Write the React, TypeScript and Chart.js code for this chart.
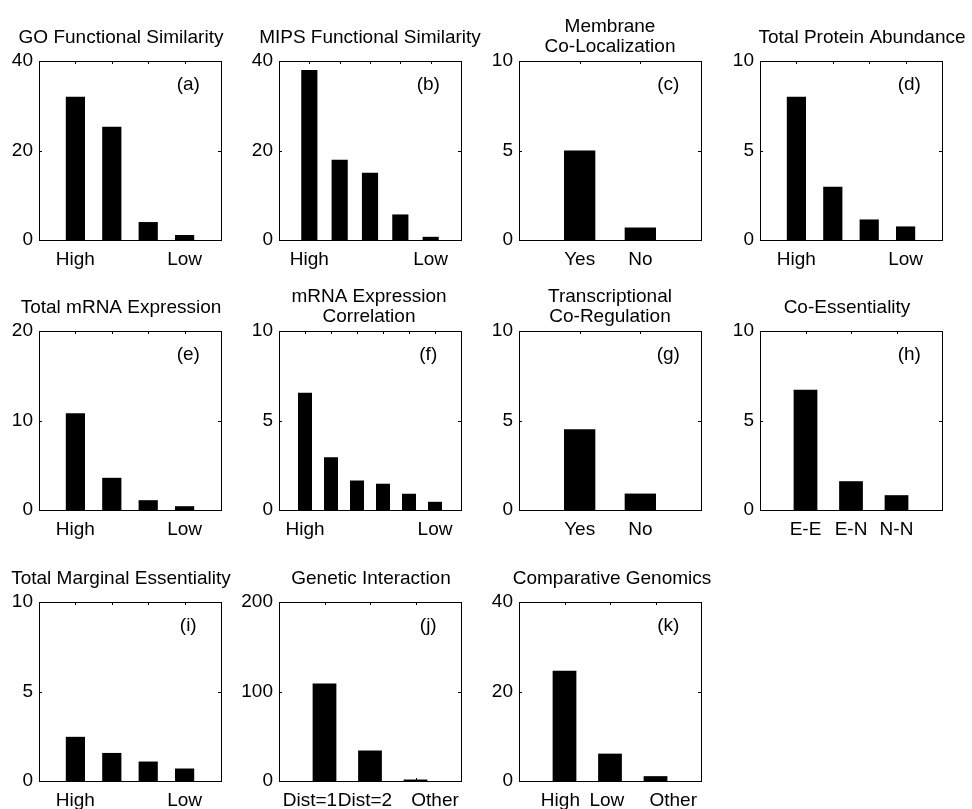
import React, { useEffect, useRef } from 'react';
import { Chart, registerables } from 'chart.js';

Chart.register(...registerables);

const FONT_FAMILY = '"Liberation Sans", Arial, Helvetica, sans-serif';
const FONT_SIZE = 19;

// ---- Data ----
// (a) GO Functional Similarity
const goCategories = ['High', '', '', 'Low'];
const goValues = [31.9, 25.2, 3.9, 1.0];
const goYTicks = [0, 20, 40];
// (b) MIPS Functional Similarity
const mipsCategories = ['High', '', '', '', 'Low'];
const mipsValues = [37.9, 17.8, 14.9, 5.6, 0.6];
const mipsYTicks = [0, 20, 40];
// (c) Membrane Co-Localization
const membraneCategories = ['Yes', 'No'];
const membraneValues = [4.97, 0.67];
const membraneYTicks = [0, 5, 10];
// (d) Total Protein Abundance
const proteinCategories = ['High', '', '', 'Low'];
const proteinValues = [7.97, 2.94, 1.12, 0.73];
const proteinYTicks = [0, 5, 10];
// (e) Total mRNA Expression
const mrnaCategories = ['High', '', '', 'Low'];
const mrnaValues = [10.76, 3.54, 1.04, 0.37];
const mrnaYTicks = [0, 10, 20];
// (f) mRNA Expression Correlation
const corrCategories = ['High', '', '', '', '', 'Low'];
const corrValues = [6.52, 2.92, 1.62, 1.44, 0.88, 0.43];
const corrYTicks = [0, 5, 10];
// (g) Transcriptional Co-Regulation
const regCategories = ['Yes', 'No'];
const regValues = [4.49, 0.89];
const regYTicks = [0, 5, 10];
// (h) Co-Essentiality
const essCategories = ['E-E', 'E-N', 'N-N'];
const essValues = [6.69, 1.58, 0.8];
const essYTicks = [0, 5, 10];
// (i) Total Marginal Essentiality
const margCategories = ['High', '', '', 'Low'];
const margValues = [2.44, 1.54, 1.06, 0.67];
const margYTicks = [0, 5, 10];
// (j) Genetic Interaction
const geneticCategories = ['Dist=1', 'Dist=2', 'Other'];
const geneticValues = [108.4, 33.5, 1.1];
const geneticYTicks = [0, 100, 200];
const geneticLabelPos = [0.68, 1.89, 3.43];
// (k) Comparative Genomics
const compCategories = ['High', 'Low', 'Other'];
const compValues = [24.5, 6.0, 0.97];
const compYTicks = [0, 20, 40];
const compLabelPos = [0.91, 1.93, 3.39];

// ---- Layout ----
const COL_LEFT = [39, 279, 519, 760];
const ROW_TOP = [61, 331, 602];
const BOX_W = 182;
const BOX_H = 179;
const PAD_L = 44;
const PAD_R = 40;
const PAD_T = 64;
const PAD_B = 30;

type Spec = {
  letter: string;
  title: string[];
  categories: string[];
  values: number[];
  yTicks: number[];
  col: number;
  row: number;
  titleShift: number;
  labelPos?: number[];
};

const PANELS: Spec[] = [
  { letter: 'a', title: ['GO Functional Similarity'], categories: goCategories, values: goValues, yTicks: goYTicks, col: 0, row: 0, titleShift: -9 },
  { letter: 'b', title: ['MIPS Functional Similarity'], categories: mipsCategories, values: mipsValues, yTicks: mipsYTicks, col: 1, row: 0, titleShift: 0 },
  { letter: 'c', title: ['Membrane', 'Co-Localization'], categories: membraneCategories, values: membraneValues, yTicks: membraneYTicks, col: 2, row: 0, titleShift: 0 },
  { letter: 'd', title: ['Total Protein Abundance'], categories: proteinCategories, values: proteinValues, yTicks: proteinYTicks, col: 3, row: 0, titleShift: 11 },
  { letter: 'e', title: ['Total mRNA Expression'], categories: mrnaCategories, values: mrnaValues, yTicks: mrnaYTicks, col: 0, row: 1, titleShift: -9 },
  { letter: 'f', title: ['mRNA Expression', 'Correlation'], categories: corrCategories, values: corrValues, yTicks: corrYTicks, col: 1, row: 1, titleShift: -1 },
  { letter: 'g', title: ['Transcriptional', 'Co-Regulation'], categories: regCategories, values: regValues, yTicks: regYTicks, col: 2, row: 1, titleShift: 0 },
  { letter: 'h', title: ['Co-Essentiality'], categories: essCategories, values: essValues, yTicks: essYTicks, col: 3, row: 1, titleShift: -4 },
  { letter: 'i', title: ['Total Marginal Essentiality'], categories: margCategories, values: margValues, yTicks: margYTicks, col: 0, row: 2, titleShift: -9 },
  { letter: 'j', title: ['Genetic Interaction'], categories: geneticCategories, values: geneticValues, yTicks: geneticYTicks, col: 1, row: 2, titleShift: 1, labelPos: geneticLabelPos },
  { letter: 'k', title: ['Comparative Genomics'], categories: compCategories, values: compValues, yTicks: compYTicks, col: 2, row: 2, titleShift: 2, labelPos: compLabelPos },
];

function Panel({ spec }: { spec: Spec }) {
  const ref = useRef<HTMLCanvasElement>(null);
  const width = PAD_L + BOX_W + PAD_R;
  const height = PAD_T + BOX_H + PAD_B;

  useEffect(() => {
    const canvas = ref.current;
    if (!canvas) return;
    const n = spec.values.length;
    const positions = spec.values.map((_, i) => i + 1);
    const labelPositions = spec.labelPos ?? positions;
    const yMax = spec.yTicks[spec.yTicks.length - 1];
    const font = { family: FONT_FAMILY, size: FONT_SIZE };

    const framePlugin = {
      id: 'frame',
      afterDraw(chart: any) {
        const { ctx, chartArea: a, scales } = chart;
        ctx.save();
        ctx.strokeStyle = '#000';
        ctx.lineWidth = 1;
        ctx.strokeRect(a.left + 0.5, a.top + 0.5, a.right - a.left, a.bottom - a.top);
        const TL = 3;
        ctx.beginPath();
        for (const v of positions) {
          const px = Math.round(scales.x.getPixelForValue(v)) + 0.5;
          ctx.moveTo(px, a.top);
          ctx.lineTo(px, a.top + TL);
          ctx.moveTo(px, a.bottom);
          ctx.lineTo(px, a.bottom - TL);
        }
        for (const t of scales.y.ticks) {
          const py = Math.round(scales.y.getPixelForValue(t.value)) + 0.5;
          ctx.moveTo(a.left, py);
          ctx.lineTo(a.left + TL, py);
          ctx.moveTo(a.right, py);
          ctx.lineTo(a.right - TL, py);
        }
        ctx.stroke();

        ctx.fillStyle = '#000';
        ctx.font = `${FONT_SIZE}px ${FONT_FAMILY}`;
        ctx.textAlign = 'center';
        ctx.textBaseline = 'middle';
        ctx.fillText(`(${spec.letter})`, a.left + 0.82 * (a.right - a.left), a.top + 0.135 * (a.bottom - a.top));

        ctx.textBaseline = 'alphabetic';
        const cx = (a.left + a.right) / 2 + spec.titleShift;
        const offs = spec.title.length === 1 ? [18.5] : [29, 9];
        spec.title.forEach((line, i) => ctx.fillText(line, cx, a.top - offs[i]));
        ctx.restore();
      },
    };

    const chart = new Chart(canvas, {
      type: 'bar',
      data: {
        datasets: [
          {
            data: spec.values.map((v, i) => ({ x: positions[i], y: v })),
            backgroundColor: '#000',
            borderWidth: 0,
            barPercentage: 0.5,
            categoryPercentage: 1,
            inflateAmount: 0.5,
          } as any,
        ],
      },
      options: {
        responsive: false,
        animation: false,
        devicePixelRatio: 1,
        layout: { padding: { left: 0, right: PAD_R, top: PAD_T, bottom: 0 } },
        plugins: {
          legend: { display: false },
          tooltip: { enabled: false },
          title: { display: false },
        },
        scales: {
          x: {
            type: 'linear',
            min: 0,
            max: n + 1,
            offset: false,
            grid: { display: false, drawTicks: false },
            border: { display: false },
            afterBuildTicks: (s: any) => {
              s.ticks = labelPositions.map((v) => ({ value: v }));
            },
            afterFit: (s: any) => {
              s.height = PAD_B;
            },
            ticks: {
              autoSkip: false,
              maxRotation: 0,
              minRotation: 0,
              padding: 8,
              color: '#000',
              font,
              callback: (_v: any, idx: number) => spec.categories[idx] ?? '',
            },
          },
          y: {
            type: 'linear',
            min: 0,
            max: yMax,
            grid: { display: false, drawTicks: false },
            border: { display: false },
            afterBuildTicks: (s: any) => {
              s.ticks = spec.yTicks.map((v) => ({ value: v }));
            },
            afterFit: (s: any) => {
              s.width = PAD_L;
            },
            ticks: {
              padding: 6,
              color: '#000',
              font,
              callback: (v: any) => String(v),
            },
          },
        },
      } as any,
      plugins: [framePlugin],
    });
    return () => chart.destroy();
  }, [spec]);

  return (
    <canvas
      ref={ref}
      width={width}
      height={height}
      style={{
        position: 'absolute',
        left: COL_LEFT[spec.col] - PAD_L,
        top: ROW_TOP[spec.row] - PAD_T,
        width,
        height,
      }}
    />
  );
}

export default function App() {
  return (
    <div
      style={{
        position: 'fixed',
        left: 0,
        top: 0,
        width: 972,
        height: 809,
        background: '#fff',
        overflow: 'hidden',
      }}
    >
      {PANELS.map((p) => (
        <Panel key={p.letter} spec={p} />
      ))}
    </div>
  );
}
